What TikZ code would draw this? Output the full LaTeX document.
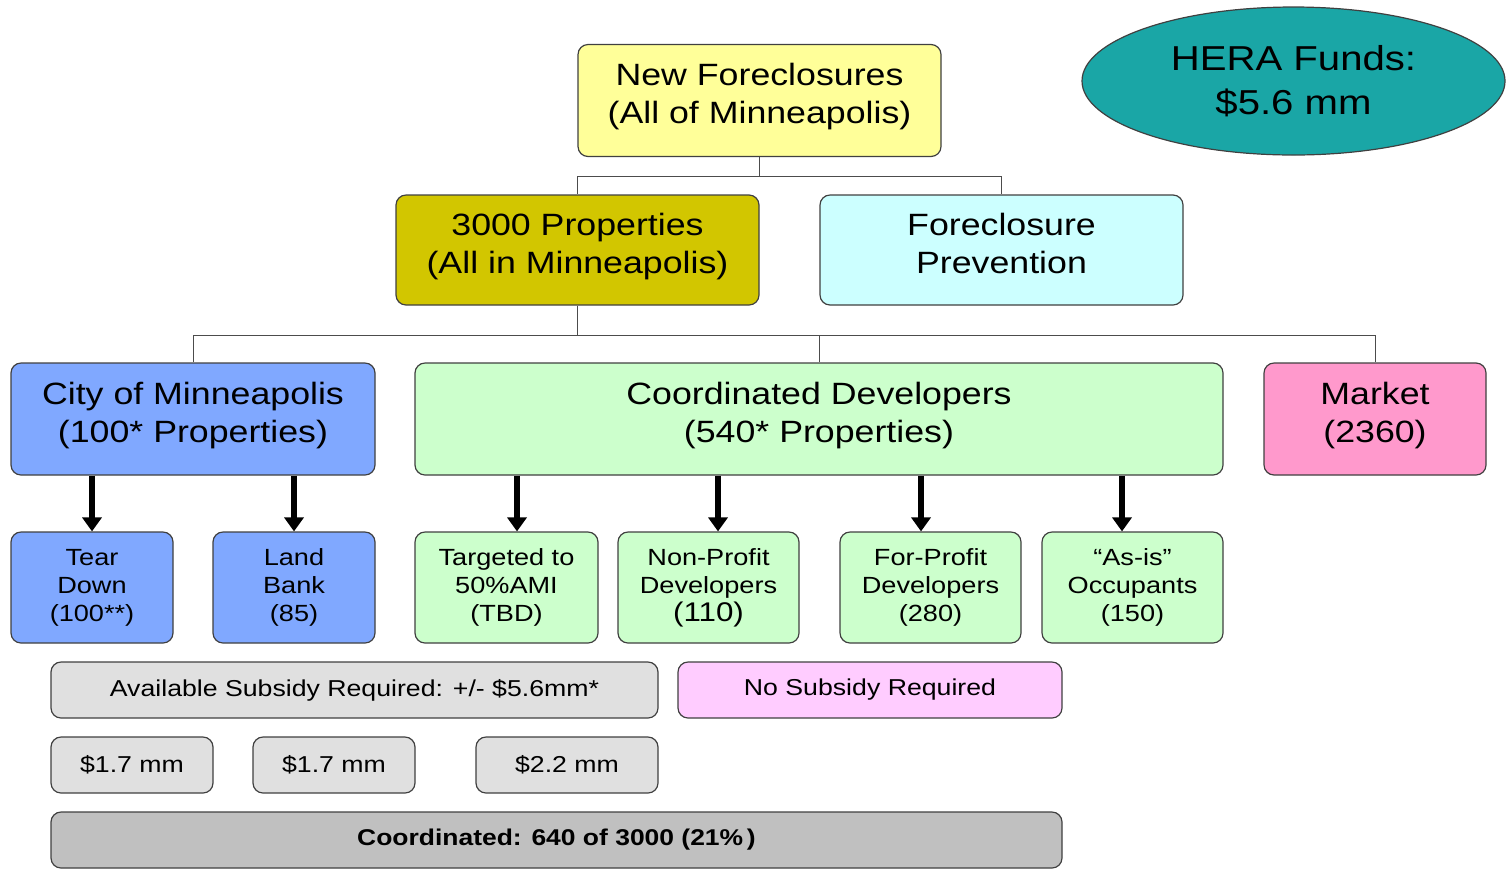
\documentclass[tikz,border=0pt]{standalone}
\usepackage{fontspec}
\setmainfont[FakeStretch=1.16]{Liberation Sans}
\usetikzlibrary{arrows.meta,shapes.geometric,calc}

\definecolor{paleyellow}{RGB}{255,255,153}
\definecolor{olive}{RGB}{210,198,0}
\definecolor{palecyan}{RGB}{204,255,255}
\definecolor{cityblue}{RGB}{128,168,255}
\definecolor{palegreen}{RGB}{204,255,204}
\definecolor{marketpink}{RGB}{255,153,204}
\definecolor{palepink}{RGB}{255,204,255}
\definecolor{lightgrey}{RGB}{224,224,224}
\definecolor{midgrey}{RGB}{192,192,192}
\definecolor{herateal}{RGB}{26,166,166}

\tikzset{
	box/.style={draw=black!75, line width=0.6pt, rounded corners=5pt, align=center, inner sep=0pt},
	bigbox/.style={box, minimum height=56pt, font=\fontsize{15.4}{19}\selectfont,
		execute at begin node={\rule{0pt}{12pt}}, execute at end node={\rule[-7pt]{0pt}{7pt}}},
	smallbox/.style={box, minimum height=55.5pt, font=\fontsize{11.7}{14}\selectfont},
	barbox/.style={box, minimum height=28pt, font=\fontsize{11.5}{13}\selectfont},
	link/.style={draw=black!70, line width=0.5pt},
	bigarrow/.style={line width=2.6pt, -{Triangle[width=9.5pt,length=7pt]}}
}

\begin{document}
\begin{tikzpicture}[x=0.5pt,y=-0.5pt]
	\useasboundingbox (0,0) rectangle (1507,869);
	%% top of the tree
	\node[bigbox, fill=paleyellow, minimum width=181.5pt] (nf) at (759.5,100.5) {New Foreclosures\\(All of Minneapolis)};
	\node[ellipse, draw=black!75, line width=0.6pt, fill=herateal, inner sep=0pt, minimum width=211.5pt, minimum height=74pt, align=center, font=\fontsize{17.3}{22}\selectfont] (hera) at (1293.5,81) {\rule{0pt}{14pt}HERA Funds:\\\$5.6 mm\rule[-3pt]{0pt}{3pt}};
	\node[bigbox, fill=olive, minimum width=181.5pt, minimum height=55pt] (tp) at (577.5,250) {3000 Properties\\(All in Minneapolis)};
	\node[bigbox, fill=palecyan, minimum width=181.5pt, minimum height=55pt] (fp) at (1001.5,250) {Foreclosure\\Prevention};
	%% second level
	\node[bigbox, fill=cityblue, minimum width=182pt] (city) at (193,419) {City of Minneapolis\\(100* Properties)};
	\node[bigbox, fill=palegreen, minimum width=404pt] (cd) at (819,419) {Coordinated Developers\\(540* Properties)};
	\node[bigbox, fill=marketpink, minimum width=111pt] (mk) at (1375,419) {Market\\(2360)};
	%% third level
	\node[smallbox, fill=cityblue, minimum width=81pt] (td) at (92,587.5) {Tear\\Down\\(100**)};
	\node[smallbox, fill=cityblue, minimum width=81pt] (lb) at (294,587.5) {Land\\Bank\\(85)};
	\node[smallbox, fill=palegreen, minimum width=91.5pt] (tg) at (506.5,587.5) {Targeted to\\50\%AMI\\(TBD)};
	\node[smallbox, fill=palegreen, minimum width=90.5pt] (np) at (708.5,587.5) {Non-Profit\\Developers\\{\fontsize{13.5}{14}\selectfont(110)}};
	\node[smallbox, fill=palegreen, minimum width=90.5pt] (fd) at (930.5,587.5) {For-Profit\\Developers\\(280)};
	\node[smallbox, fill=palegreen, minimum width=90.5pt] (ai) at (1132.5,587.5) {“As-is”\\Occupants\\(150)};
	%% subsidy bars
	\node[barbox, fill=lightgrey, minimum width=303.5pt] (avail) at (354.5,690) {Available Subsidy Required: +/- \$5.6mm*};
	\node[barbox, fill=palepink, minimum width=192pt] (nosub) at (870,690) {No Subsidy Required};
	\node[barbox, fill=lightgrey, minimum width=81pt] (sa) at (132,765) {\$1.7 mm};
	\node[barbox, fill=lightgrey, minimum width=81pt] (sb) at (334,765) {\$1.7 mm};
	\node[barbox, fill=lightgrey, minimum width=91pt] (sc) at (567,765) {\$2.2 mm};
	\node[barbox, fill=midgrey, minimum width=505.5pt, font=\fontsize{11.4}{13}\selectfont\bfseries] (co) at (556.5,840) {Coordinated: 640 of 3000 (21\%\,)};
	%% tree links
	\draw[link] (nf.south) -- ++(0,19) -| (tp.north);
	\draw[link] (nf.south) -- ++(0,19) -| (fp.north);
	\draw[link] (tp.south) -- ++(0,30) -| (city.north);
	\draw[link] (tp.south) -- ++(0,30) -| (cd.north);
	\draw[link] (tp.south) -- ++(0,30) -| (mk.north);
	%% arrows
	\coordinate (a1) at ($(tg.north)+(10.5,0)$);
	\coordinate (a2) at ($(np.north)+(9.5,0)$);
	\coordinate (a3) at ($(fd.north)+(-9.5,0)$);
	\coordinate (a4) at ($(ai.north)+(-10.5,0)$);
	\draw[bigarrow] (td.north |- city.south) -- (td.north);
	\draw[bigarrow] (lb.north |- city.south) -- (lb.north);
	\draw[bigarrow] (a1 |- cd.south) -- (a1);
	\draw[bigarrow] (a2 |- cd.south) -- (a2);
	\draw[bigarrow] (a3 |- cd.south) -- (a3);
	\draw[bigarrow] (a4 |- cd.south) -- (a4);
\end{tikzpicture}
\end{document}
